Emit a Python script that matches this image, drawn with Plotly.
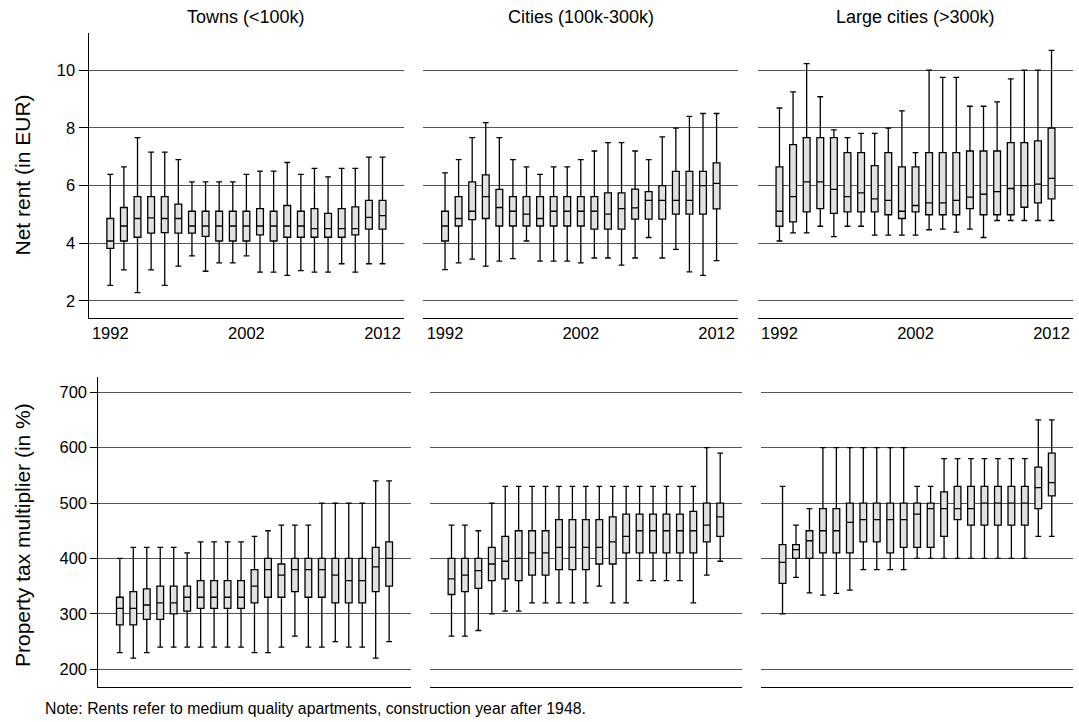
import plotly.graph_objects as go

years = list(range(1992, 2013))
x_ticks = [1992, 2002, 2012]

panel_titles = ["Towns (<100k)", "Cities (100k-300k)", "Large cities (>300k)"]
rent_title = "Net rent (in EUR)"
tax_title = "Property tax multiplier (in %)"
note_text = "Note: Rents refer to medium quality apartments, construction year after 1948."

rent_ticks = [2, 4, 6, 8, 10]
tax_ticks = [200, 300, 400, 500, 600, 700]

# Net rent, towns (<100k)
rent_towns_hi = [6.39, 6.65, 7.66, 7.16, 7.16, 6.90, 6.13, 6.13, 6.13, 6.13, 6.39, 6.50, 6.50, 6.80, 6.39, 6.60, 6.30, 6.60, 6.60, 6.99, 6.99]
rent_towns_q3 = [4.86, 5.24, 5.62, 5.62, 5.62, 5.36, 5.11, 5.11, 5.11, 5.11, 5.11, 5.20, 5.11, 5.31, 5.11, 5.20, 5.04, 5.20, 5.26, 5.49, 5.49]
rent_towns_med = [4.08, 4.60, 4.86, 4.88, 4.86, 4.86, 4.60, 4.60, 4.60, 4.60, 4.60, 4.60, 4.60, 4.60, 4.60, 4.51, 4.51, 4.51, 4.51, 4.90, 4.96]
rent_towns_q1 = [3.82, 4.08, 4.21, 4.35, 4.37, 4.35, 4.35, 4.24, 4.08, 4.08, 4.08, 4.29, 4.08, 4.21, 4.21, 4.21, 4.21, 4.21, 4.29, 4.49, 4.49]
rent_towns_lo = [2.54, 3.08, 2.29, 3.08, 2.54, 3.21, 3.56, 3.03, 3.32, 3.32, 3.56, 3.00, 3.00, 2.89, 3.05, 3.00, 3.00, 3.29, 3.00, 3.29, 3.29]

# Net rent, cities (100k-300k)
rent_cities_hi = [6.44, 6.90, 7.66, 8.18, 7.66, 6.90, 6.65, 6.39, 6.65, 6.65, 6.90, 7.20, 7.49, 7.49, 7.20, 6.90, 7.69, 7.99, 8.40, 8.50, 8.50]
rent_cities_q3 = [5.11, 5.62, 6.13, 6.37, 5.87, 5.62, 5.62, 5.62, 5.62, 5.62, 5.62, 5.62, 5.75, 5.75, 5.88, 5.79, 6.00, 6.49, 6.49, 6.49, 6.79]
rent_cities_med = [4.60, 4.86, 5.11, 5.62, 5.24, 5.11, 5.01, 4.86, 5.11, 5.11, 5.11, 5.11, 5.01, 5.20, 5.23, 5.49, 5.49, 5.49, 5.49, 6.00, 6.08]
rent_cities_q1 = [4.08, 4.60, 4.82, 4.86, 4.60, 4.60, 4.60, 4.60, 4.60, 4.60, 4.60, 4.49, 4.49, 4.49, 4.84, 4.84, 4.84, 5.01, 5.01, 5.01, 5.19]
rent_cities_lo = [3.09, 3.32, 3.45, 3.21, 3.38, 3.47, 4.08, 3.38, 3.38, 3.38, 3.32, 3.49, 3.49, 3.24, 3.49, 4.20, 3.49, 3.79, 3.01, 2.89, 3.40]

# Net rent, large cities (>300k)
rent_large_hi = [8.69, 9.25, 10.23, 9.08, 7.93, 7.66, 7.81, 7.81, 7.99, 8.59, 7.14, 10.00, 9.75, 9.75, 8.75, 8.75, 8.90, 9.70, 10.00, 10.00, 10.69]
rent_large_q3 = [6.65, 7.42, 7.66, 7.66, 7.66, 7.14, 7.14, 6.69, 7.14, 6.65, 6.65, 7.14, 7.14, 7.14, 7.20, 7.20, 7.20, 7.49, 7.49, 7.55, 7.99]
rent_large_med = [5.11, 5.62, 6.13, 6.13, 5.87, 5.62, 5.75, 5.54, 5.49, 5.11, 5.31, 5.40, 5.40, 5.49, 5.60, 5.70, 5.79, 5.90, 6.00, 6.05, 6.25]
rent_large_q1 = [4.59, 4.74, 5.09, 5.20, 5.04, 5.09, 5.09, 5.09, 4.99, 4.86, 5.09, 4.99, 4.99, 4.99, 5.20, 4.99, 4.99, 4.99, 5.25, 5.40, 5.54]
rent_large_lo = [4.08, 4.36, 4.36, 4.59, 4.23, 4.59, 4.59, 4.28, 4.28, 4.28, 4.28, 4.47, 4.49, 4.39, 4.49, 4.20, 4.79, 4.79, 4.79, 4.79, 4.79]

# Property tax multiplier, towns (<100k)
tax_towns_hi = [400, 420, 420, 420, 420, 410, 430, 430, 430, 430, 440, 450, 460, 460, 460, 500, 500, 500, 500, 540, 540]
tax_towns_q3 = [330, 340, 345, 350, 350, 350, 360, 360, 360, 360, 380, 400, 390, 400, 400, 400, 400, 400, 400, 420, 430]
tax_towns_med = [310, 310, 316, 320, 320, 330, 330, 330, 330, 330, 350, 380, 370, 380, 380, 380, 370, 360, 360, 385, 400]
tax_towns_q1 = [280, 280, 290, 290, 300, 305, 310, 310, 310, 310, 320, 330, 330, 340, 330, 330, 320, 320, 320, 340, 350]
tax_towns_lo = [230, 220, 230, 240, 240, 240, 240, 240, 240, 240, 230, 230, 240, 260, 240, 240, 250, 240, 240, 220, 250]

# Property tax multiplier, cities (100k-300k)
tax_cities_hi = [460, 460, 450, 500, 530, 530, 530, 530, 530, 530, 530, 530, 530, 530, 530, 530, 530, 530, 530, 600, 590]
tax_cities_q3 = [400, 400, 400, 420, 440, 450, 450, 450, 470, 470, 470, 470, 475, 480, 480, 480, 480, 480, 485, 500, 500]
tax_cities_med = [363, 370, 378, 390, 395, 400, 410, 410, 420, 420, 420, 420, 430, 440, 450, 450, 450, 450, 450, 460, 475]
tax_cities_q1 = [335, 340, 346, 360, 363, 360, 370, 370, 380, 380, 380, 390, 390, 410, 410, 410, 410, 410, 410, 430, 440]
tax_cities_lo = [260, 260, 270, 300, 305, 305, 320, 320, 320, 320, 320, 350, 320, 320, 360, 360, 360, 360, 320, 370, 395]

# Property tax multiplier, large cities (>300k)
tax_large_hi = [530, 460, 490, 600, 600, 600, 600, 600, 600, 600, 530, 530, 580, 580, 580, 580, 580, 580, 580, 650, 650]
tax_large_q3 = [425, 425, 450, 490, 490, 500, 500, 500, 500, 500, 500, 500, 520, 530, 530, 530, 530, 530, 530, 565, 590]
tax_large_med = [393, 416, 432, 450, 450, 465, 470, 470, 470, 470, 480, 490, 490, 490, 490, 500, 500, 500, 500, 528, 537]
tax_large_q1 = [355, 400, 400, 410, 410, 410, 430, 430, 410, 420, 420, 420, 440, 470, 460, 460, 460, 460, 460, 490, 513]
tax_large_lo = [300, 366, 338, 334, 337, 343, 380, 380, 380, 380, 400, 400, 400, 400, 400, 400, 400, 400, 400, 440, 440]

W, H = 1079, 722
FONT = "Liberation Sans, Arial, Helvetica, sans-serif"


def xdom(left, right):
    return [left / W, right / W]


def ydom(top, bottom):
    return [1 - bottom / H, 1 - top / H]


# (stats, x-domain px, y-domain px, y-range, y-ticks, tick length)
panels = [
    ((rent_towns_lo, rent_towns_q1, rent_towns_med, rent_towns_q3, rent_towns_hi), (88.5, 404.3), (33.3, 317.7), (1.42, 11.28), rent_ticks, 9),
    ((rent_cities_lo, rent_cities_q1, rent_cities_med, rent_cities_q3, rent_cities_hi), (423.3, 738.3), (33.3, 317.7), (1.42, 11.28), rent_ticks, 9),
    ((rent_large_lo, rent_large_q1, rent_large_med, rent_large_q3, rent_large_hi), (757.7, 1073.3), (33.3, 317.7), (1.42, 11.28), rent_ticks, 9),
    ((tax_towns_lo, tax_towns_q1, tax_towns_med, tax_towns_q3, tax_towns_hi), (98.3, 410.7), (376.7, 686.7), (168.6, 728.0), tax_ticks, 7),
    ((tax_cities_lo, tax_cities_q1, tax_cities_med, tax_cities_q3, tax_cities_hi), (430.0, 741.7), (376.7, 686.7), (168.6, 728.0), tax_ticks, 7),
    ((tax_large_lo, tax_large_q1, tax_large_med, tax_large_q3, tax_large_hi), (761.0, 1073.3), (376.7, 686.7), (168.6, 728.0), tax_ticks, 7),
]

fig = go.Figure()
layout = {}

for i, (stats, xpx, ypx, yrange, yticks, ticklen) in enumerate(panels):
    n = i + 1
    sfx = "" if n == 1 else str(n)
    lo, q1, med, q3, hi = stats
    fig.add_trace(go.Box(
        x=years, lowerfence=lo, q1=q1, median=med, q3=q3, upperfence=hi,
        xaxis="x" + sfx, yaxis="y" + sfx,
        width=0.5, whiskerwidth=0.85, boxpoints=False,
        fillcolor="#e1e1e1", line=dict(color="black", width=1.3),
        hoverinfo="skip", showlegend=False,
    ))
    top_row = i < 3
    first_col = i % 3 == 0
    layout["xaxis" + sfx] = dict(
        domain=xdom(*xpx), range=[1990.4, 2013.6], anchor="y" + sfx,
        showgrid=False, zeroline=False,
        showline=True, linecolor="black", linewidth=1,
        tickmode="array", tickvals=x_ticks, ticktext=[str(t) for t in x_ticks],
        showticklabels=top_row, ticks="",
        tickfont=dict(size=16.5, color="black", family=FONT),
    )
    layout["yaxis" + sfx] = dict(
        domain=ydom(*ypx), range=list(yrange), anchor="x" + sfx,
        showgrid=True, gridcolor="#555555", gridwidth=1, zeroline=False,
        tickmode="array", tickvals=yticks, ticktext=[str(t) for t in yticks],
        showline=first_col, linecolor="black", linewidth=1,
        ticks="outside" if first_col else "", ticklen=ticklen,
        tickcolor="black", tickwidth=1,
        showticklabels=first_col,
        tickfont=dict(size=16.5, color="black", family=FONT),
    )

annotations = []
for j, title in enumerate(panel_titles):
    xl, xr = panels[j][1]
    annotations.append(dict(
        text=title, x=(xl + xr) / 2 / W, y=1 - 17 / H, xref="paper", yref="paper",
        xanchor="center", yanchor="middle", showarrow=False,
        font=dict(size=18, color="black", family=FONT),
    ))

for title, ycenter in [(rent_title, 175.5), (tax_title, 535.0)]:
    annotations.append(dict(
        text=title, x=22 / W, y=1 - ycenter / H, xref="paper", yref="paper",
        xanchor="center", yanchor="middle", textangle=-90, showarrow=False,
        font=dict(size=21, color="black", family=FONT),
    ))

annotations.append(dict(
    text=note_text, x=43 / W, y=1 - 708 / H, xref="paper", yref="paper",
    xanchor="left", yanchor="middle", showarrow=False,
    font=dict(size=15.8, color="black", family=FONT),
))

fig.update_layout(
    width=W, height=H,
    margin=dict(l=0, r=0, t=0, b=0),
    paper_bgcolor="white", plot_bgcolor="white",
    font=dict(family=FONT, color="black"),
    annotations=annotations,
    **layout,
)

fig.write_html("out.html")
